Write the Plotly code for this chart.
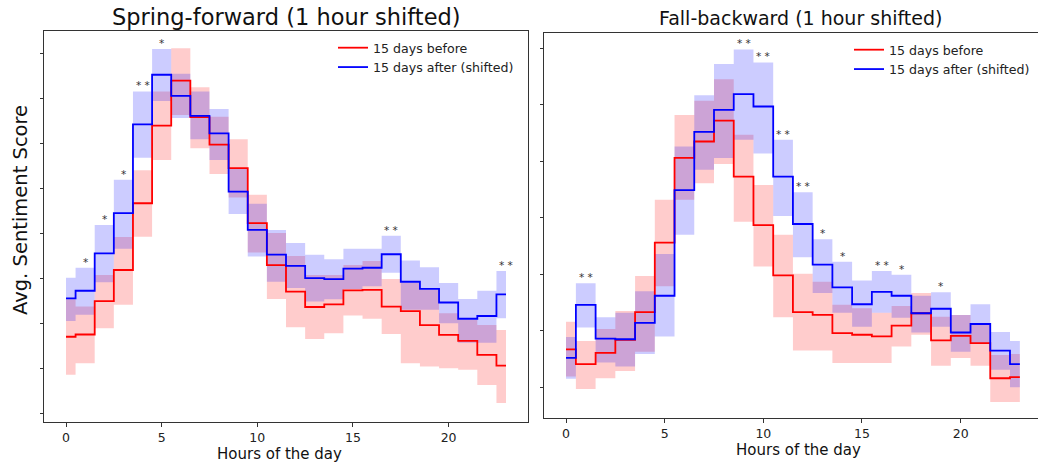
import plotly.graph_objects as go

W, H = 1038, 463
hours = list(range(24))

# ---------------- Spring-forward (left panel) ----------------
sf_before = [1.71, 1.76, 2.50, 3.19, 4.67, 6.39, 7.39, 6.58, 5.97, 5.45, 4.23, 3.30,
             2.71, 2.37, 2.43, 2.74, 2.75, 2.38, 2.28, 1.97, 1.75, 1.62, 1.31, 1.07]
sf_before_hi = [2.54, 2.38, 3.08, 3.92, 5.40, 7.15, 8.11, 7.24, 6.59, 6.09, 4.86, 4.01,
                3.50, 3.08, 3.08, 3.30, 3.39, 2.99, 2.91, 2.75, 2.23, 2.08, 1.97, 1.86]
sf_before_lo = [0.87, 1.12, 1.90, 2.42, 3.93, 5.63, 6.63, 5.89, 5.32, 4.80, 3.58, 2.55,
                1.92, 1.66, 1.79, 2.18, 2.11, 1.77, 1.12, 1.05, 1.01, 0.98, 0.64, 0.24]
sf_after = [2.56, 2.73, 3.56, 4.45, 6.42, 7.52, 7.05, 6.61, 6.22, 4.93, 4.08, 3.53,
            3.28, 3.01, 2.99, 3.22, 3.24, 3.54, 2.93, 2.77, 2.47, 2.11, 2.17, 2.65]
sf_after_hi = [3.02, 3.24, 4.19, 5.19, 7.15, 8.09, 7.54, 7.15, 6.76, 5.45, 4.66, 4.08,
               3.79, 3.53, 3.43, 3.66, 3.66, 3.95, 3.40, 3.25, 2.90, 2.55, 2.73, 3.17]
sf_after_lo = [2.06, 2.20, 2.92, 3.66, 5.68, 6.94, 6.56, 6.09, 5.63, 4.43, 3.49, 2.93,
               2.79, 2.49, 2.54, 2.77, 2.83, 3.13, 2.31, 2.31, 2.01, 1.58, 1.58, 2.12]
sf_sig_hours = [1, 2, 3, 4, 5, 17, 23]
sf_sig_marks = ["*", "*", "*", "* *", "*", "* *", "* *"]

# ---------------- Fall-backward (right panel) ----------------
fb_before = [0.67, 0.41, 0.61, 0.84, 1.33, 2.56, 4.06, 4.35, 4.72, 3.73, 2.87, 1.98,
             1.33, 1.28, 0.96, 0.93, 0.90, 1.09, 1.31, 0.83, 0.91, 0.78, 0.16, 0.18]
fb_before_hi = [1.16, 0.82, 1.03, 1.35, 1.97, 3.32, 4.82, 5.07, 5.45, 4.47, 3.58, 2.70,
                2.01, 1.87, 1.46, 1.40, 1.32, 1.44, 1.67, 1.25, 1.28, 1.13, 0.57, 0.59]
fb_before_lo = [0.19, -0.03, 0.16, 0.29, 0.63, 1.79, 3.32, 3.61, 3.95, 2.93, 2.14, 1.24,
                0.65, 0.65, 0.43, 0.43, 0.43, 0.72, 0.93, 0.38, 0.52, 0.38, -0.26, -0.26]
fb_after = [0.52, 1.46, 0.86, 0.85, 1.14, 1.62, 3.49, 4.52, 4.91, 5.19, 4.97, 3.73,
            2.89, 2.17, 1.77, 1.47, 1.69, 1.62, 1.31, 1.39, 0.97, 1.12, 0.65, 0.41]
fb_after_hi = [0.89, 1.84, 1.24, 1.32, 1.70, 2.36, 4.26, 5.17, 5.72, 5.98, 5.75, 4.38,
               3.45, 2.62, 2.22, 1.89, 2.06, 1.99, 1.62, 1.68, 1.28, 1.47, 0.98, 0.82]
fb_after_lo = [0.15, 1.06, 0.44, 0.37, 0.59, 0.90, 2.70, 3.85, 4.06, 4.38, 4.14, 3.03,
               2.30, 1.67, 1.32, 1.07, 1.32, 1.23, 0.97, 1.07, 0.63, 0.78, 0.31, 0.00]
fb_sig_hours = [1, 9, 10, 11, 12, 13, 14, 16, 17, 19]
fb_sig_marks = ["* *", "* *", "* *", "* *", "* *", "*", "*", "* *", "*", "*"]

RED = "rgb(255,0,0)"
BLUE = "rgb(0,0,255)"
RED_FILL = "rgba(255,0,0,0.2)"
BLUE_FILL = "rgba(0,0,255,0.2)"
FONT = "DejaVu Sans"

fig = go.Figure()


def add_panel(xa, ya, legend, before, b_lo, b_hi, after, a_lo, a_hi):
    common = dict(x=hours, xaxis=xa, yaxis=ya, mode="lines", line_shape="hvh",
                  hoverinfo="skip", showlegend=False)
    fig.add_trace(go.Scatter(y=b_lo, line=dict(width=0, color=RED_FILL), **common))
    fig.add_trace(go.Scatter(y=b_hi, line=dict(width=0, color=RED_FILL),
                             fill="tonexty", fillcolor=RED_FILL, **common))
    fig.add_trace(go.Scatter(y=a_lo, line=dict(width=0, color=BLUE_FILL), **common))
    fig.add_trace(go.Scatter(y=a_hi, line=dict(width=0, color=BLUE_FILL),
                             fill="tonexty", fillcolor=BLUE_FILL, **common))
    common["showlegend"] = True
    fig.add_trace(go.Scatter(y=before, name="15 days before", legend=legend,
                             line=dict(width=1.8, color=RED), **common))
    fig.add_trace(go.Scatter(y=after, name="15 days after (shifted)", legend=legend,
                             line=dict(width=1.8, color=BLUE), **common))


add_panel("x", "y", "legend", sf_before, sf_before_lo, sf_before_hi,
          sf_after, sf_after_lo, sf_after_hi)
add_panel("x2", "y2", "legend2", fb_before, fb_before_lo, fb_before_hi,
          fb_after, fb_after_lo, fb_after_hi)

annotations = []
for h, m in zip(sf_sig_hours, sf_sig_marks):
    annotations.append(dict(x=h, y=sf_after_hi[h], xref="x", yref="y", text=m,
                            showarrow=False, yanchor="middle", yshift=6,
                            font=dict(family=FONT, size=10.5, color="#333")))
for h, m in zip(fb_sig_hours, fb_sig_marks):
    annotations.append(dict(x=h, y=fb_after_hi[h], xref="x2", yref="y2", text=m,
                            showarrow=False, yanchor="middle", yshift=6,
                            font=dict(family=FONT, size=10.5, color="#333")))

annotations += [
    dict(text="Spring-forward (1 hour shifted)", x=286 / W, y=1 - 17 / H, xref="paper",
         yref="paper", showarrow=False, xanchor="center", yanchor="middle",
         font=dict(family=FONT, size=22.5, color="#111")),
    dict(text="Fall-backward (1 hour shifted)", x=800 / W, y=1 - 18 / H, xref="paper",
         yref="paper", showarrow=False, xanchor="center", yanchor="middle",
         font=dict(family=FONT, size=19, color="#111")),
    dict(text="Hours of the day", x=279 / W, y=1 - 454 / H, xref="paper", yref="paper",
         showarrow=False, xanchor="center", yanchor="middle",
         font=dict(family=FONT, size=15, color="#111")),
    dict(text="Hours of the day", x=798 / W, y=1 - 450 / H, xref="paper", yref="paper",
         showarrow=False, xanchor="center", yanchor="middle",
         font=dict(family=FONT, size=15, color="#111")),
    dict(text="Avg. Sentiment Score", x=20 / W, y=1 - 210 / H, xref="paper", yref="paper",
         showarrow=False, xanchor="center", yanchor="middle", textangle=-90,
         font=dict(family=FONT, size=19.5, color="#111")),
]

axis_common = dict(showgrid=False, zeroline=False, showline=True, linecolor="#333",
                   linewidth=1, ticks="outside", ticklen=3.5, tickwidth=1, tickcolor="#333",
                   tickfont=dict(family=FONT, size=12.5, color="#222"))

legend_common = dict(xanchor="left", yanchor="top", bgcolor="rgba(0,0,0,0)",
                     font=dict(family=FONT, size=12.6, color="#222"),
                     tracegroupgap=0, traceorder="normal")

fig.update_layout(
    width=W, height=H, margin=dict(l=0, r=0, t=0, b=0),
    paper_bgcolor="white", plot_bgcolor="white",
    xaxis=dict(domain=[44 / W, 528 / W], range=[-1.15, 24.15], anchor="y",
               tickvals=[0, 5, 10, 15, 20], mirror=True, **axis_common),
    yaxis=dict(domain=[41 / H, 432 / H], range=[-0.18, 8.49], anchor="x",
               tickvals=list(range(9)), showticklabels=False, mirror=True, **axis_common),
    xaxis2=dict(domain=[544 / W, 1.0], range=[-1.115, 23.92], anchor="y2",
                tickvals=[0, 5, 10, 15, 20], mirror=True, **axis_common),
    yaxis2=dict(domain=[44.7 / H, 430.3 / H], range=[-0.549, 6.276], anchor="x2",
                tickvals=list(range(7)), showticklabels=False, mirror=False, **axis_common),
    legend=dict(x=333 / W, y=1 - 33 / H, **legend_common),
    legend2=dict(x=849 / W, y=1 - 35 / H, **legend_common),
    annotations=annotations,
)

fig.write_html("out.html")
